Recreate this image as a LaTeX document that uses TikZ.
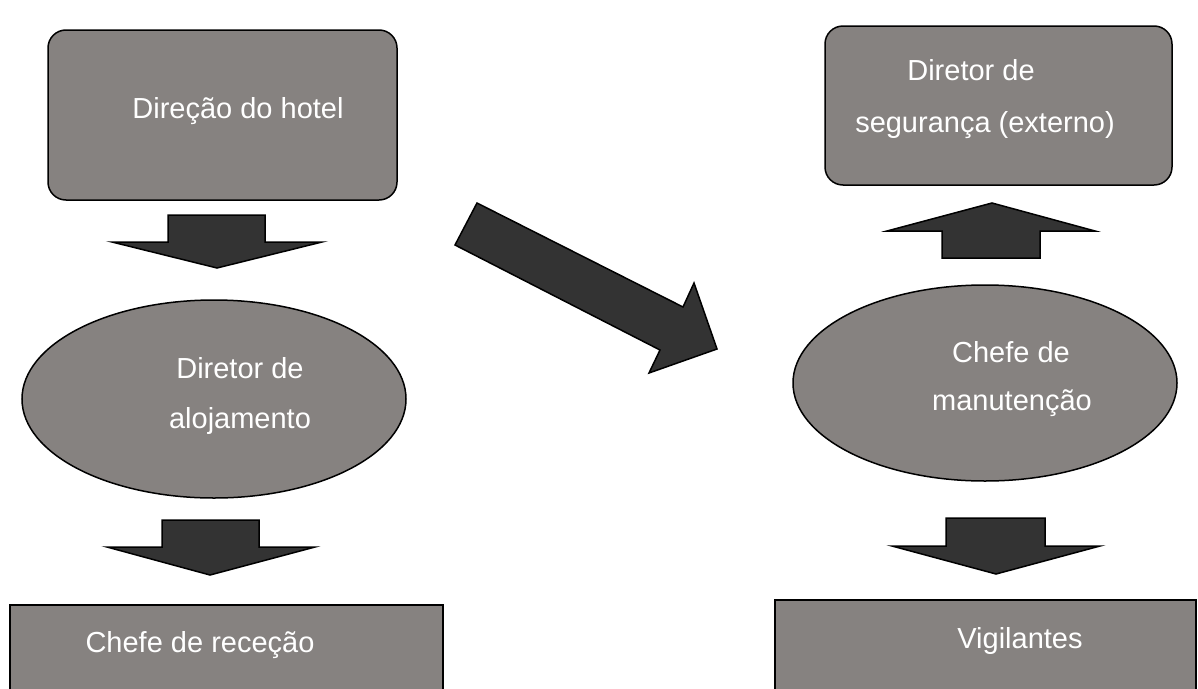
\documentclass[tikz,border=0pt]{standalone}
\usepackage{fontspec}
\setmainfont{Liberation Sans}
\definecolor{boxgray}{HTML}{868280}
\definecolor{arrowdark}{HTML}{333333}
\begin{document}
\begin{tikzpicture}[x=1pt,y=-1pt,
  shapefill/.style={fill=boxgray, draw=black, line width=1.5pt},
  blockarrow/.style={fill=arrowdark, draw=black, line width=1.5pt, line join=miter},
  lbl/.style={text=white, anchor=base, inner sep=0pt, font=\fontsize{29}{35}\selectfont}]
\useasboundingbox (0,0) rectangle (1198,688);
\clip (0,0) rectangle (1198,688);
\fill[white] (0,0) rectangle (1198,688);
% left column
\draw[shapefill, rounded corners=18] (48,30) rectangle (397,200);
\node[lbl] (t1) at (238,118) {Direção do hotel};
\draw[blockarrow] (168,215) -- (265,215) -- (265,242) -- (322,242) -- (217,268) -- (112,242) -- (168,242) -- cycle;
\draw[shapefill] (214,399) ellipse [x radius=192, y radius=99];
\node[lbl] (t2a) at (240,378) {Diretor de};
\node[lbl] (t2b) at (240,428) {alojamento};
\draw[blockarrow] (162,520) -- (259,520) -- (259,547) -- (315,547) -- (210,575) -- (107,547) -- (162,547) -- cycle;
\draw[shapefill] (10,605) rectangle (443,700);
\node[lbl] (t3) at (200,652) {Chefe de receção};
% diagonal arrow
\draw[blockarrow] (477,203) -- (683,307) -- (694,283) -- (717,349) -- (649,373) -- (660,350) -- (455,245) -- cycle;
% right column
\draw[shapefill, rounded corners=18] (825,26) rectangle (1172,185);
\node[lbl] (t4a) at (971,80) {Diretor de};
\node[lbl] (t4b) at (985,132) {segurança (externo)};
\draw[blockarrow] (942,258) -- (1040,258) -- (1040,231) -- (1095,231) -- (992,203) -- (887,231) -- (942,231) -- cycle;
\draw[shapefill] (985,383) ellipse [x radius=192, y radius=98];
\node[lbl] (t5a) at (1011,362) {Chefe de};
\node[lbl] (t5b) at (1012,410) {manutenção};
\draw[blockarrow] (946,518) -- (1045,518) -- (1045,546) -- (1100,546) -- (996,574) -- (892,546) -- (946,546) -- cycle;
\draw[shapefill] (775,600) rectangle (1196,700);
\node[lbl] (t6) at (1020,648) {Vigilantes};
\end{tikzpicture}
\end{document}
